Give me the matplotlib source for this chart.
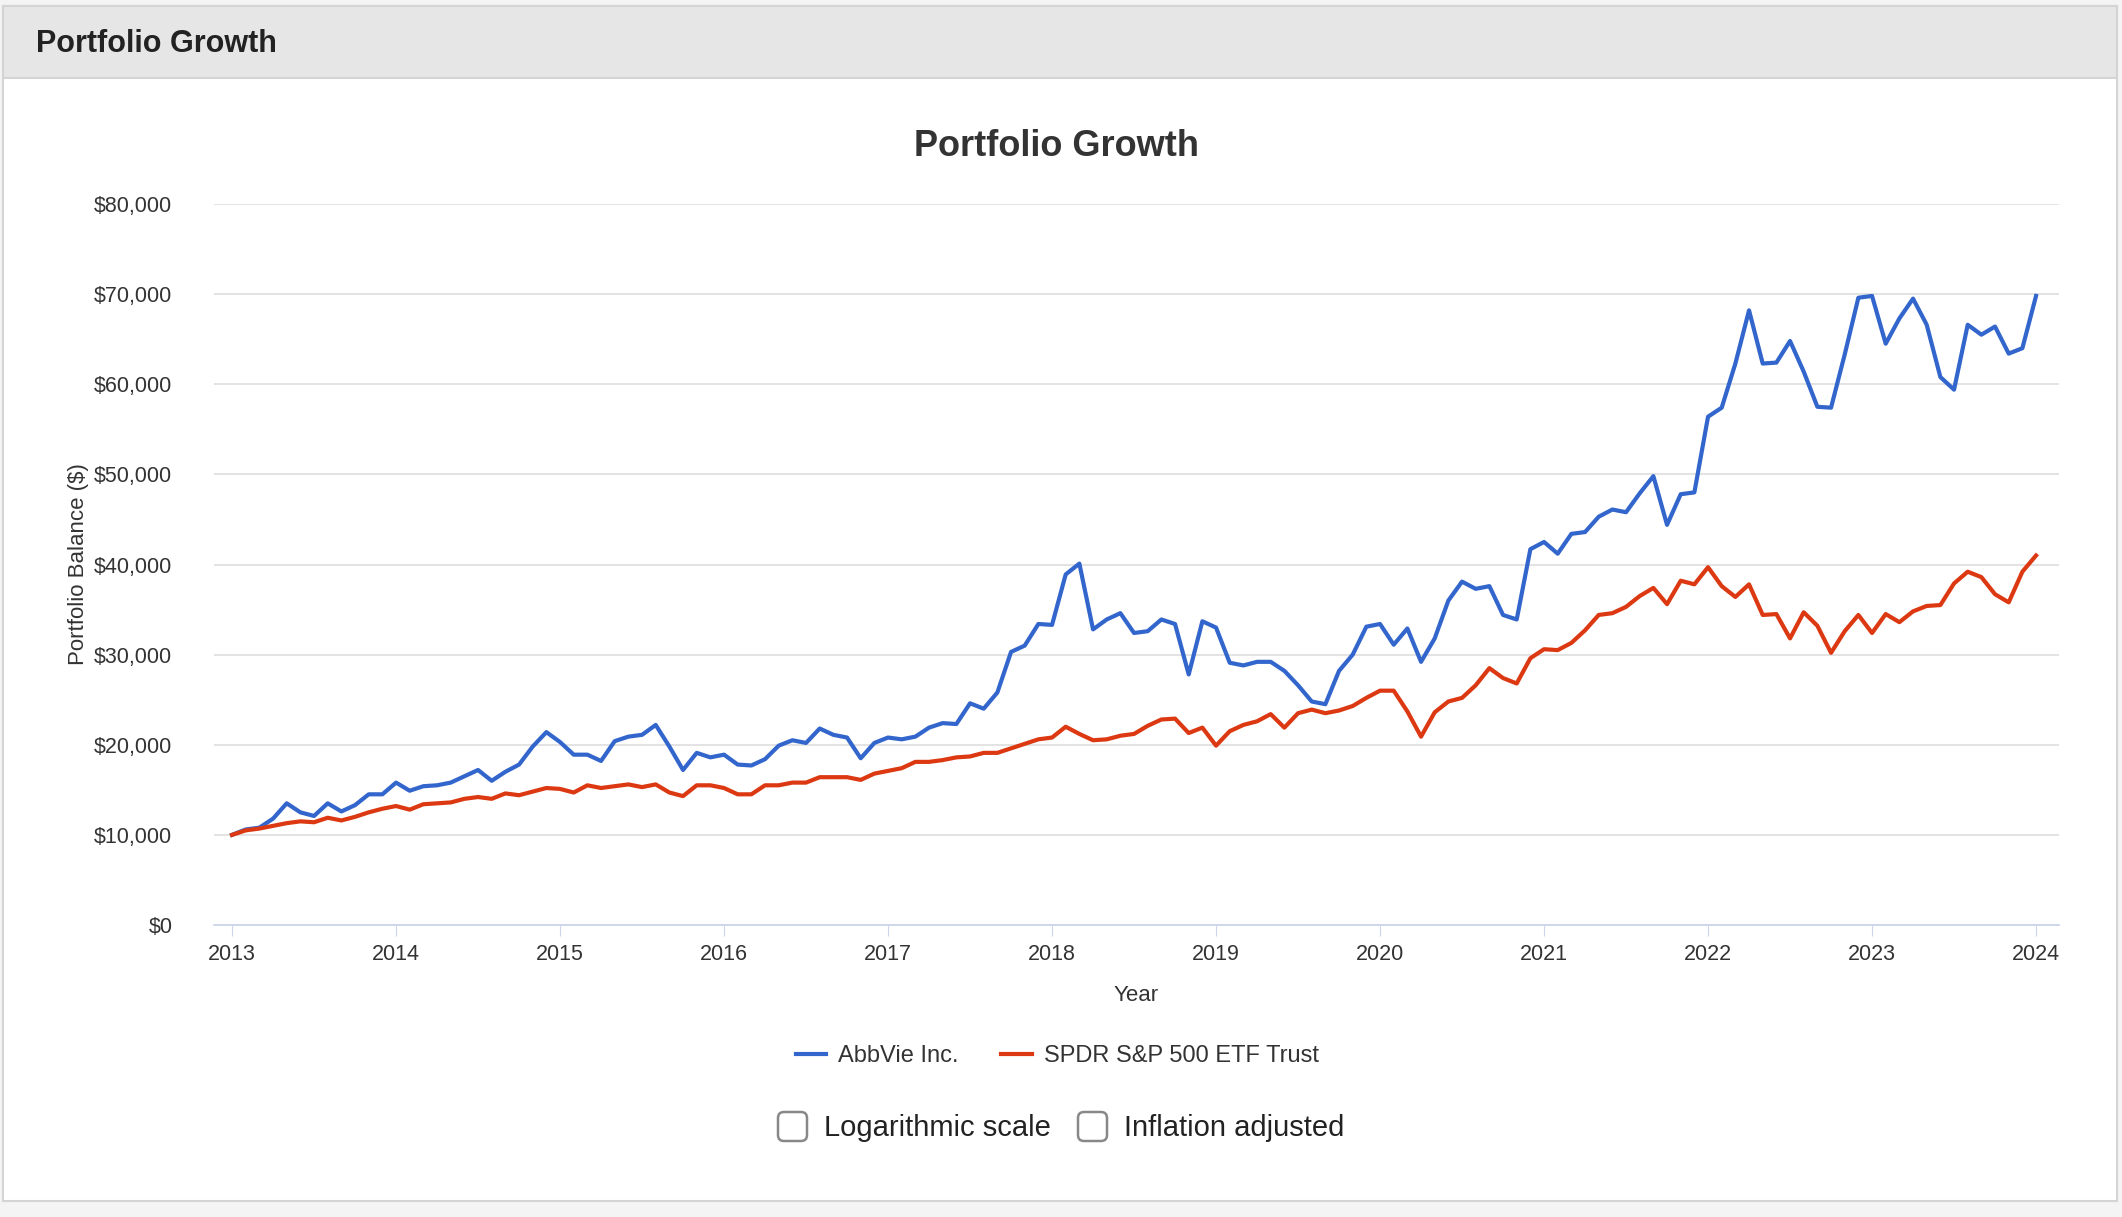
import matplotlib
matplotlib.use("Agg")
import matplotlib.pyplot as plt
from matplotlib.patches import Rectangle, FancyBboxPatch
from matplotlib.ticker import FuncFormatter
import numpy as np

plt.rcParams["font.family"] = "Liberation Sans"

start_year = 2013
abbvie = [
    10.0, 10.6, 10.8, 11.8, 13.5, 12.5, 12.1, 13.5, 12.6, 13.3, 14.5, 14.5,
    15.8, 14.9, 15.4, 15.5, 15.8, 16.5, 17.2, 16.0, 17.0, 17.8, 19.8, 21.4,
    20.3, 18.9, 18.9, 18.2, 20.4, 20.9, 21.1, 22.2, 19.8, 17.2, 19.1, 18.6,
    18.9, 17.8, 17.7, 18.4, 19.9, 20.5, 20.2, 21.8, 21.1, 20.8, 18.5, 20.2,
    20.8, 20.6, 20.9, 21.9, 22.4, 22.3, 24.6, 24.0, 25.8, 30.3, 31.0, 33.4,
    33.3, 38.9, 40.1, 32.8, 33.9, 34.6, 32.4, 32.6, 33.9, 33.4, 27.8, 33.7,
    33.0, 29.1, 28.8, 29.2, 29.2, 28.2, 26.6, 24.8, 24.5, 28.2, 30.0, 33.1,
    33.4, 31.1, 32.9, 29.2, 31.8, 36.0, 38.1, 37.3, 37.6, 34.4, 33.9, 41.7,
    42.5, 41.2, 43.4, 43.6, 45.3, 46.1, 45.8, 47.9, 49.8, 44.4, 47.8, 48.0,
    56.4, 57.4, 62.3, 68.2, 62.3, 62.4, 64.8, 61.4, 57.5, 57.4, 63.3, 69.6,
    69.8, 64.5, 67.3, 69.5, 66.6, 60.8, 59.4, 66.6, 65.5, 66.4, 63.4, 64.0,
    69.8,
]
spy = [
    10.0, 10.5, 10.7, 11.0, 11.3, 11.5, 11.4, 11.9, 11.6, 12.0, 12.5, 12.9,
    13.2, 12.8, 13.4, 13.5, 13.6, 14.0, 14.2, 14.0, 14.6, 14.4, 14.8, 15.2,
    15.1, 14.7, 15.5, 15.2, 15.4, 15.6, 15.3, 15.6, 14.7, 14.3, 15.5, 15.5,
    15.2, 14.5, 14.5, 15.5, 15.5, 15.8, 15.8, 16.4, 16.4, 16.4, 16.1, 16.8,
    17.1, 17.4, 18.1, 18.1, 18.3, 18.6, 18.7, 19.1, 19.1, 19.6, 20.1, 20.6,
    20.8, 22.0, 21.2, 20.5, 20.6, 21.0, 21.2, 22.1, 22.8, 22.9, 21.3, 21.9,
    19.9, 21.5, 22.2, 22.6, 23.4, 21.9, 23.5, 23.9, 23.5, 23.8, 24.3, 25.2,
    26.0, 26.0, 23.7, 20.9, 23.6, 24.8, 25.2, 26.6, 28.5, 27.4, 26.8, 29.6,
    30.6, 30.5, 31.3, 32.7, 34.4, 34.6, 35.3, 36.5, 37.4, 35.6, 38.2, 37.8,
    39.7, 37.6, 36.4, 37.8, 34.4, 34.5, 31.8, 34.7, 33.2, 30.2, 32.6, 34.4,
    32.4, 34.5, 33.6, 34.8, 35.4, 35.5, 37.9, 39.2, 38.6, 36.7, 35.8, 39.2,
    41.0,
]
series_names = ["AbbVie Inc.", "SPDR S&P 500 ETF Trust"]
series_colors = ["#3366cc", "#dc3912"]
year_ticks = list(range(2013, 2025))
y_ticks = [0, 10000, 20000, 30000, 40000, 50000, 60000, 70000, 80000]

W, H = 2122, 1217
fig = plt.figure(figsize=(W / 100, H / 100), dpi=100)
fig.patch.set_facecolor("#f4f4f4")

# panel
bg = fig.add_axes([0, 0, 1, 1], zorder=-5)
bg.set_xlim(0, W); bg.set_ylim(H, 0); bg.axis("off")
bg.add_patch(Rectangle((3, 6), W - 8, H - 22, facecolor="white", edgecolor="#d4d4d4", lw=1.5))
bg.add_patch(Rectangle((3, 6), W - 8, 72, facecolor="#e6e6e6", edgecolor="#d4d4d4", lw=1.5))
bg.text(36, 44, "Portfolio Growth", fontsize=22, fontweight="bold", color="#222222", va="center")

x = np.array([start_year + i / 12 for i in range(len(abbvie))])
ax = fig.add_axes([214 / W, 1 - 925 / H, (2059 - 214) / W, (925 - 204) / H])
ax.plot(x, np.array(abbvie) * 1000, color=series_colors[0], lw=3, label=series_names[0])
ax.plot(x, np.array(spy) * 1000, color=series_colors[1], lw=3, label=series_names[1])
ax.set_xlim(2012.89, 2024.14)
ax.set_ylim(0, 80000)
ax.set_yticks(y_ticks)
ax.yaxis.set_major_formatter(FuncFormatter(lambda v, p: f"${v:,.0f}"))
ax.set_xticks(year_ticks)
ax.set_xticklabels([str(y) for y in year_ticks])
ax.grid(axis="y", color="#e0e0e0", lw=1.3)
ax.set_axisbelow(True)
for s in ["top", "right", "left"]:
    ax.spines[s].set_visible(False)
ax.spines["bottom"].set_color("#ccd6eb")
ax.spines["bottom"].set_linewidth(1.3)
ax.tick_params(axis="y", length=0, labelsize=15.5, colors="#333333", pad=30)
ax.tick_params(axis="x", length=8, color="#ccd6eb", labelsize=15.5, colors="#333333", pad=6)
ax.set_xlabel("Year", fontsize=16, color="#333333", labelpad=14)
ax.set_ylabel("Portfolio Balance ($)", fontsize=16, color="#333333", labelpad=4)
fig.text(1057 / W, 1 - 147 / H, "Portfolio Growth", fontsize=26, fontweight="bold",
         color="#333333", ha="center", va="center")
leg = ax.legend(loc="center", bbox_to_anchor=(1057 / W, 1 - 1056 / H), bbox_transform=fig.transFigure,
                ncol=2, frameon=False, fontsize=17, handlelength=1.3, columnspacing=1.8,
                handletextpad=0.5)
for t in leg.get_texts():
    t.set_color("#333333")

# checkboxes
for bx, label in [(778, "Logarithmic scale"), (1078, "Inflation adjusted")]:
    bg.add_patch(FancyBboxPatch((bx, 1112), 29, 29, boxstyle="round,pad=0,rounding_size=6",
                                facecolor="white", edgecolor="#888888", lw=1.8))
    bg.text(bx + 46, 1128, label, fontsize=21, color="#222222", va="center")

fig.savefig("out.png", dpi=100, facecolor=fig.get_facecolor())
